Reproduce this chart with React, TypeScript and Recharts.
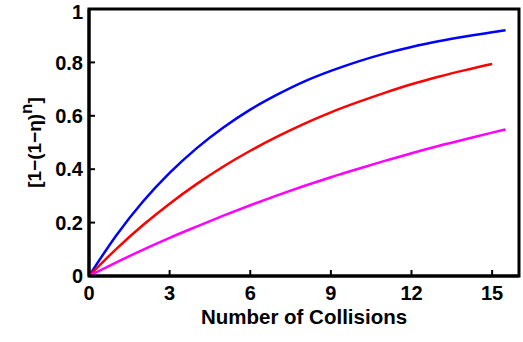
import { LineChart, Line, XAxis, YAxis, ReferenceArea } from "recharts";

const collisions = [0, 1, 2, 3, 4, 5, 6, 7, 8, 9, 10, 11, 12, 13, 14, 15, 15.5];
const blueValues = [0, 0.15, 0.278, 0.386, 0.478, 0.556, 0.623, 0.679, 0.728, 0.768, 0.803, 0.833, 0.858, 0.879, 0.897, 0.913, 0.92];
const redValues = [0, 0.1, 0.19, 0.271, 0.344, 0.41, 0.469, 0.522, 0.57, 0.613, 0.651, 0.686, 0.718, 0.746, 0.771, 0.794, null];
const magentaValues = [0, 0.05, 0.098, 0.143, 0.185, 0.226, 0.265, 0.302, 0.337, 0.37, 0.401, 0.431, 0.46, 0.487, 0.512, 0.537, 0.549];
const xTicks = [0, 3, 6, 9, 12, 15];
const yTicks = [0, 0.2, 0.4, 0.6, 0.8, 1];

const data = collisions.map((n, i) => ({
  n,
  blue: blueValues[i],
  red: redValues[i],
  magenta: magentaValues[i],
}));

const font = "'Liberation Sans', Arial, sans-serif";
const tickStyle = { fill: "#000", fontSize: 20, fontWeight: 700, fontFamily: font };

function YLabel(props: any) {
  const vb = props.viewBox || { x: 0, y: 0, width: 0, height: 0 };
  const cx = vb.x + 34;
  const cy = vb.y + vb.height / 2;
  return (
    <text
      transform={`translate(${cx},${cy}) rotate(-90)`}
      textAnchor="middle"
      dominantBaseline="central"
      fontFamily={font}
      fontSize={19}
      fontWeight={700}
      fill="#000"
    >
      [1−(1−η)
      <tspan dy={-8} fontSize={17}>n</tspan>
      <tspan dy={8}>]</tspan>
    </text>
  );
}

export default function App() {
  return (
    <div style={{ position: "absolute", left: 0, top: 0 }}>
      <LineChart
        width={523}
        height={342}
        data={data}
        margin={{ top: 9, right: 4, bottom: 6, left: 0 }}
      >
        <XAxis
          dataKey="n"
          type="number"
          domain={[0, 16]}
          ticks={xTicks}
          tick={tickStyle}
          tickSize={-6}
          tickMargin={16}
          tickLine={{ stroke: "#000", strokeWidth: 2 }}
          axisLine={{ stroke: "#000", strokeWidth: 3 }}
          height={60}
          label={{
            value: "Number of Collisions",
            position: "insideBottom",
            offset: 12,
            style: { fill: "#000", fontSize: 20.5, fontWeight: 700, fontFamily: font },
          }}
        />
        <YAxis
          type="number"
          domain={[0, 1]}
          ticks={yTicks}
          tick={tickStyle}
          tickSize={-6}
          tickMargin={12}
          tickLine={{ stroke: "#000", strokeWidth: 2 }}
          axisLine={{ stroke: "#000", strokeWidth: 3 }}
          width={89}
          label={<YLabel />}
        />
        <ReferenceArea
          x1={0}
          x2={16}
          y1={0}
          y2={1}
          fill="none"
          fillOpacity={0}
          stroke="#000"
          strokeWidth={3}
          strokeOpacity={1}
        />
        <Line type="monotone" dataKey="blue" stroke="#0000ff" strokeWidth={2.5} dot={false} isAnimationActive={false} />
        <Line type="monotone" dataKey="red" stroke="#ff0000" strokeWidth={2.5} dot={false} isAnimationActive={false} />
        <Line type="monotone" dataKey="magenta" stroke="#ff00ff" strokeWidth={2.5} dot={false} isAnimationActive={false} />
      </LineChart>
    </div>
  );
}
